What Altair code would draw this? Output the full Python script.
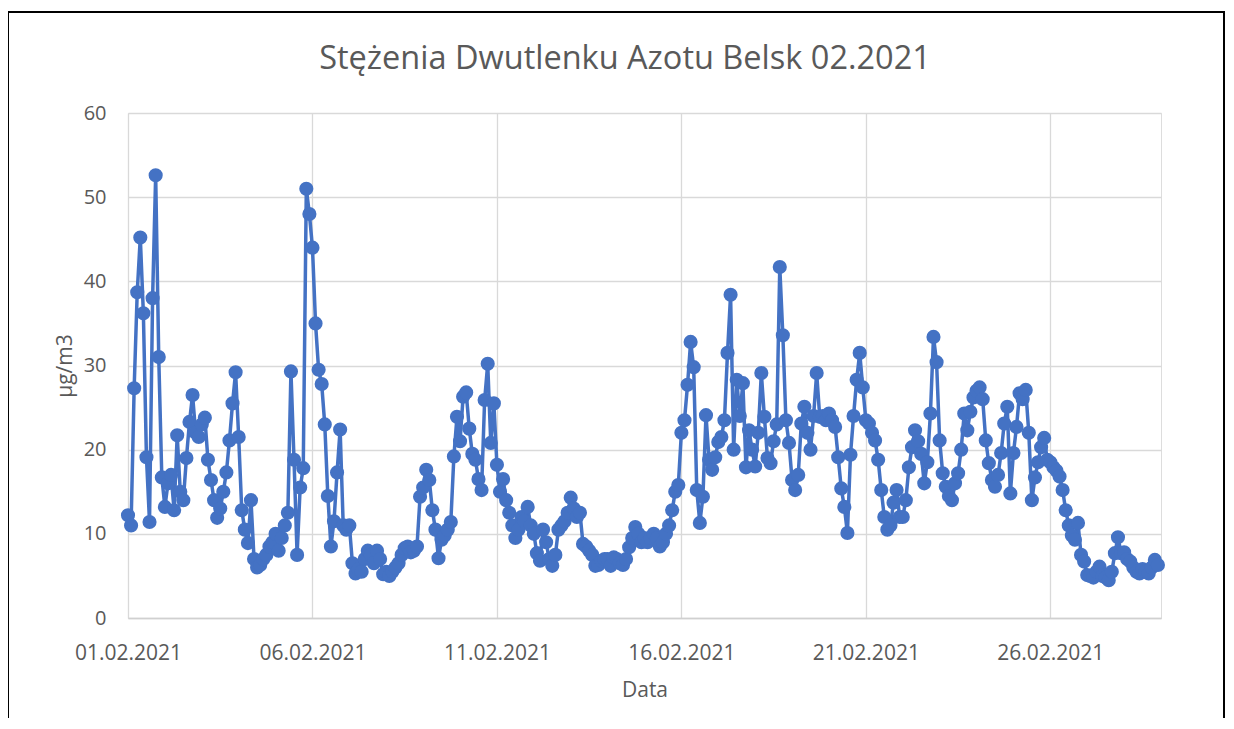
import altair as alt
import pandas as pd

# NO2 concentration (µg/m3), Belsk, February 2021 — readings every 2 hours
week1 = [
    12.2, 11, 27.3, 38.7, 45.2, 36.2, 19.1, 11.4, 38, 52.6, 31, 16.7,
    13.2, 16, 17, 12.8, 21.7, 15, 14, 19, 23.3, 26.5, 22, 21.5,
    23, 23.8, 18.8, 16.4, 14, 11.9, 13, 15, 17.3, 21.1, 25.5, 29.2,
    21.5, 12.8, 10.5, 8.9, 14, 7, 6, 6.3, 7, 7.5, 8.5, 9,
    10, 8, 9.5, 11, 12.5, 29.3, 18.8, 7.5, 15.5, 17.8, 51, 48,
    44, 35, 29.5, 27.8, 23, 14.5, 8.5, 11.5, 17.3, 22.4, 11, 10.5,
    11, 6.5, 5.3, 5.8, 5.5, 7, 8, 7.5, 6.5, 8, 7, 5.2,
]
week2 = [
    5.5, 5, 5.5, 6, 6.5, 7.5, 8.3, 8.5, 7.8, 8, 8.5, 14.4,
    15.5, 17.6, 16.4, 12.8, 10.5, 7.1, 9.3, 9.8, 10.5, 11.4, 19.2, 23.9,
    21, 26.3, 26.8, 22.5, 19.5, 18.8, 16.5, 15.2, 25.9, 30.2, 20.8, 25.5,
    18.2, 15, 16.5, 14, 12.5, 11, 9.5, 10.5, 12, 11.5, 13.2, 11,
    10, 7.7, 6.8, 10.5, 9, 7, 6.2, 7.5, 10.5, 11, 11.5, 12.5,
    14.3, 13, 12, 12.5, 8.8, 8.5, 8, 7.5, 6.2, 6.3, 6.8, 7,
    7, 6.2, 7.2, 7, 6.5, 6.3, 7, 8.4, 9.5, 10.8, 10, 9,
]
week3 = [
    9.5, 9, 9.5, 10, 9.5, 8.5, 9, 10, 11, 12.8, 15, 15.8,
    22, 23.5, 27.7, 32.8, 29.8, 15.2, 11.3, 14.4, 24.1, 18.8, 17.6, 19.1,
    20.9, 21.5, 23.5, 31.5, 38.4, 20, 28.3, 24, 27.9, 17.9, 22.3, 20,
    18, 22, 29.1, 23.9, 19, 18.4, 21, 23, 41.7, 33.6, 23.5, 20.8,
    16.4, 15.2, 17, 23.1, 25.1, 22, 20, 24, 29.1, 23.9, 24, 23.5,
    24.3, 23.5, 22.7, 19.1, 15.4, 13.2, 10.1, 19.4, 24, 28.3, 31.5, 27.4,
    23.5, 23.1, 22, 21.1, 18.8, 15.2, 12, 10.5, 11, 13.7, 15.2, 12,
]
week4 = [
    12, 14, 17.9, 20.3, 22.3, 21, 19.5, 16, 18.5, 24.3, 33.4, 30.4,
    21.1, 17.2, 15.6, 14.5, 14, 16, 17.2, 20, 24.3, 22.3, 24.5, 26.2,
    27, 27.4, 26, 21.1, 18.4, 16.4, 15.6, 17, 19.6, 23.1, 25.1, 14.8,
    19.6, 22.7, 26.7, 26, 27.1, 22, 14, 16.7, 18.5, 20.3, 21.4, 18.8,
    18.5, 17.9, 17.5, 16.8, 15.2, 12.8, 11, 9.8, 9.3, 11.3, 7.5, 6.7,
    5.1, 5, 4.8, 5.5, 6.1, 5, 4.8, 4.5, 5.5, 7.7, 9.6, 7.7,
    7.8, 7, 6.7, 6, 5.5, 5.3, 5.8, 5.5, 5.3, 6, 6.9, 6.3,
]
tick_days = [1, 6, 11, 16, 21, 26]
y_ticks = [0, 10, 20, 30, 40, 50, 60]
title_text = "Stężenia Dwutlenku Azotu Belsk 02.2021"

values = week1 + week2 + week3 + week4
times = pd.date_range("2021-02-01 00:00", periods=len(values), freq="2h").strftime("%Y-%m-%dT%H:%M")
df = pd.DataFrame({"Data": list(times), "NO2": values})

BLUE = "#4472C4"
GREY = "#595959"
GRID = "#d9d9d9"
FONT = "Open Sans"

x_enc = alt.X(
    "Data:T",
    title="Data",
    scale=alt.Scale(domain=[alt.DateTime(year=2021, month=2, date=1),
                            alt.DateTime(year=2021, month=3, date=1)]),
    axis=alt.Axis(
        values=[alt.DateTime(year=2021, month=2, date=d) for d in tick_days],
        format="%d.%m.%Y",
        labelFontSize=21, labelColor=GREY, labelFont=FONT, labelPadding=24,
        labelFlush=False,
        titleFontSize=21, titleColor=GREY, titleFont=FONT, titleFontWeight="normal",
        titlePadding=16,
        ticks=False, grid=True, gridColor=GRID, gridWidth=1.3,
        domainColor="#d0d0d0", domainWidth=1.5,
    ),
)
y_enc = alt.Y(
    "NO2:Q",
    title="µg/m3",
    scale=alt.Scale(domain=[0, 60]),
    axis=alt.Axis(
        values=y_ticks,
        labelFontSize=20, labelColor=GREY, labelFont=FONT, labelPadding=22,
        titleFontSize=21, titleColor=GREY, titleFont=FONT, titleFontWeight="normal",
        titlePadding=8,
        ticks=False, domain=False, grid=True, gridColor=GRID, gridWidth=1.3,
    ),
)

line = alt.Chart(df).mark_line(
    color=BLUE, strokeWidth=3.5,
    point=alt.OverlayMarkDef(filled=True, color=BLUE, size=200, opacity=1),
).encode(x=x_enc, y=y_enc)

frame = alt.Chart(pd.DataFrame({"f": [0]})).mark_rect(
    filled=False, stroke="black", strokeWidth=2, clip=False
).encode(
    x=alt.value(-120), x2=alt.value(1096), y=alt.value(-101), y2=alt.value(740)
)

title = alt.Chart(pd.DataFrame({"t": [title_text]})).mark_text(
    font=FONT, fontSize=32.5, color=GREY, align="center", baseline="alphabetic"
).encode(text="t:N", x=alt.value(497), y=alt.value(-44))

chart = alt.layer(frame, line, title).properties(
    width=1033,
    height=505,
    autosize=alt.AutoSizeParams(type="none"),
    padding={"left": 120, "top": 105, "right": 64, "bottom": 100},
).configure_view(stroke=None).configure(background="white")

chart.save("out.html", embed_options={"renderer": "svg", "actions": False})
